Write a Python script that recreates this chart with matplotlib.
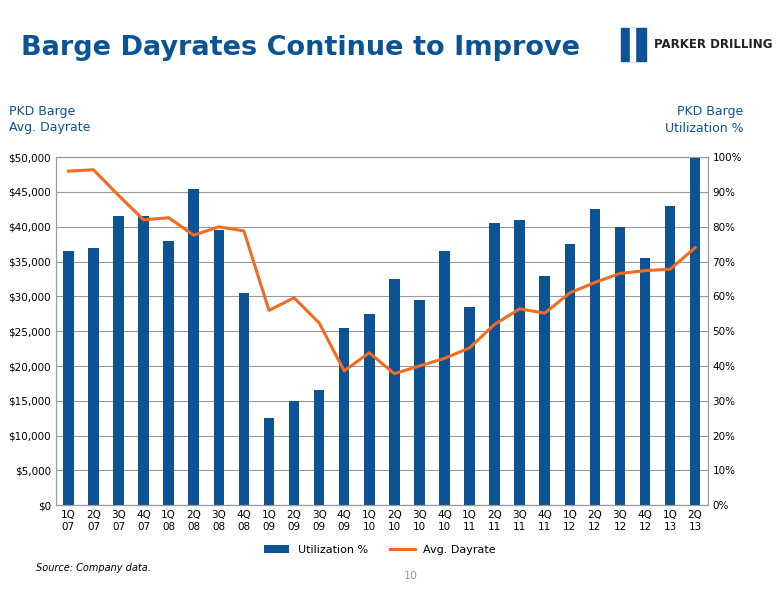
import matplotlib.pyplot as plt
from matplotlib.ticker import FuncFormatter

quarters = ["1Q\n07", "2Q\n07", "3Q\n07", "4Q\n07", "1Q\n08", "2Q\n08", "3Q\n08", "4Q\n08",
            "1Q\n09", "2Q\n09", "3Q\n09", "4Q\n09", "1Q\n10", "2Q\n10", "3Q\n10", "4Q\n10",
            "1Q\n11", "2Q\n11", "3Q\n11", "4Q\n11", "1Q\n12", "2Q\n12", "3Q\n12", "4Q\n12",
            "1Q\n13", "2Q\n13"]
utilization = [73, 74, 83, 83, 76, 91, 79, 61, 25, 30, 33, 51, 55, 65, 59, 73,
               57, 81, 82, 66, 75, 85, 80, 71, 86, 100]
dayrate = [48000, 48200, 44500, 41000, 41300, 38800, 40000, 39400, 28000, 29800, 26200, 19300,
           21900, 18900, 20000, 21100, 22600, 26000, 28200, 27600, 30500, 32000, 33300, 33700,
           33900, 37000]

blue = "#0b5394"
orange = "#f26b21"

fig = plt.figure(figsize=(7.76, 6.0), dpi=100)
ax = fig.add_axes([0.072, 0.158, 0.84, 0.58])
ax2 = ax.twinx()

x = range(len(quarters))
ax2.bar(x, utilization, width=0.42, color=blue, label="Utilization %", zorder=2)
ax.plot(x, dayrate, color=orange, linewidth=2.2, label="Avg. Dayrate", zorder=3)
ax.set_zorder(ax2.get_zorder() + 1)
ax.patch.set_visible(False)

ax.set_xlim(-0.5, len(quarters) - 0.5)
ax.set_ylim(0, 50000)
ax2.set_ylim(0, 100)
ax.set_yticks(range(0, 50001, 5000))
ax2.set_yticks(range(0, 101, 10))
ax.yaxis.set_major_formatter(FuncFormatter(lambda v, p: f"${v:,.0f}"))
ax2.yaxis.set_major_formatter(FuncFormatter(lambda v, p: f"{v:.0f}%"))
ax.set_xticks(list(x))
ax.set_xticklabels(quarters)
for a in (ax, ax2):
    a.tick_params(labelsize=7.5, length=0)
    for s in a.spines.values():
        s.set_color("#999999")
ax2.grid(axis="y", color="#999999", linewidth=0.8, zorder=0)
ax2.set_axisbelow(True)

h1, l1 = ax2.get_legend_handles_labels()
h2, l2 = ax.get_legend_handles_labels()
fig.legend(h1 + h2, l1 + l2, loc="center", bbox_to_anchor=(0.49, 0.083), ncol=2,
           frameon=False, fontsize=8, handlelength=2.2)

fig.text(0.027, 0.92, "Barge Dayrates Continue to Improve", fontsize=19.5, fontweight="bold",
         color=blue, va="center")
# logo
fig.patches.append(plt.Rectangle((0.800, 0.898), 0.032, 0.056, transform=fig.transFigure,
                                 color=blue))
fig.patches.append(plt.Rectangle((0.812, 0.898), 0.006, 0.056, transform=fig.transFigure,
                                 color="white"))
fig.text(0.843, 0.925, "PARKER DRILLING", fontsize=8.5, fontweight="bold", color="#222222",
         va="center", family="Liberation Sans Narrow")
fig.text(0.012, 0.8, "PKD Barge\nAvg. Dayrate", fontsize=9, color=blue, va="center",
         linespacing=1.3)
fig.text(0.958, 0.8, "PKD Barge\nUtilization %", fontsize=9, color=blue, va="center",
         ha="right", linespacing=1.3)
fig.text(0.047, 0.048, "Source: Company data.", fontsize=7, style="italic")
fig.text(0.53, 0.035, "10", fontsize=8, color="#999999", ha="center")

fig.savefig("out.png", dpi=100)
